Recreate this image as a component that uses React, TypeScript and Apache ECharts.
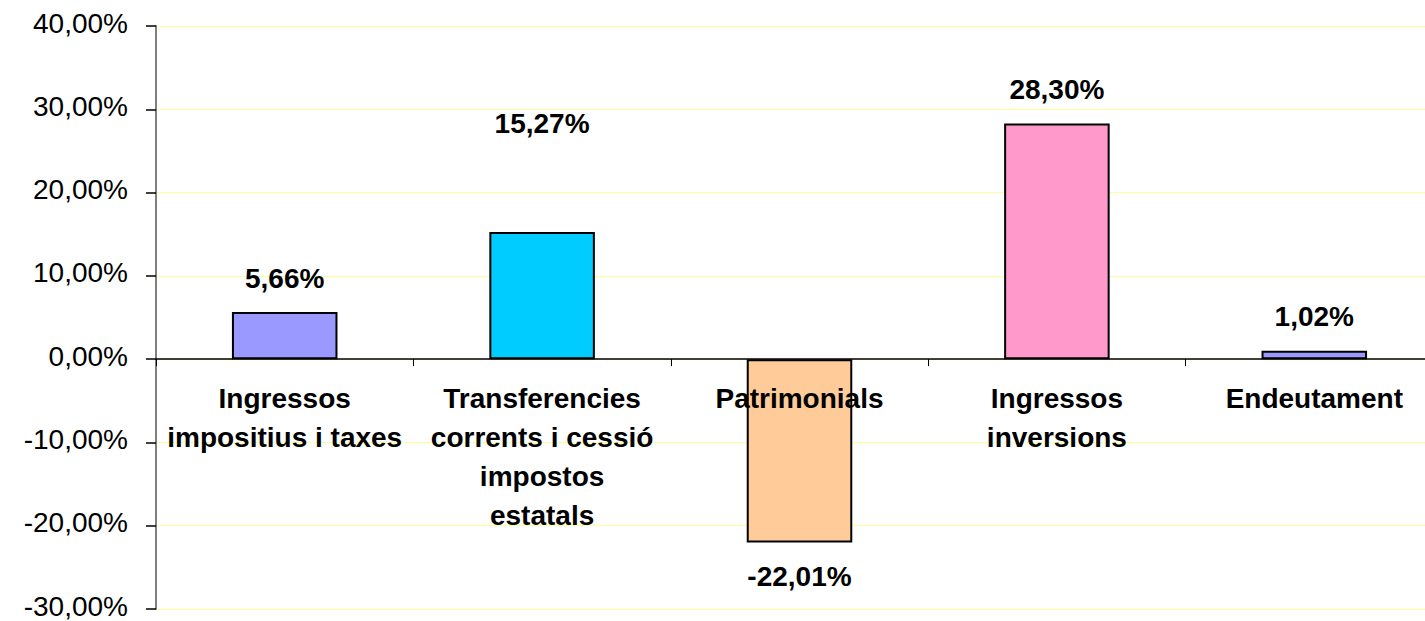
import React, { useEffect, useRef } from "react";
import * as echarts from "echarts";

const categories = [
  "Ingressos\nimpositius i taxes",
  "Transferencies\ncorrents i cessió\nimpostos\nestatals",
  "Patrimonials",
  "Ingressos\ninversions",
  "Endeutament",
];
const values = [5.66, 15.27, -22.01, 28.3, 1.02];
const barColors = ["#9999FF", "#00CCFF", "#FFCC99", "#FF99CC", "#9999FF"];
const yMin = -30;
const yMax = 40;
const yStep = 10;

const FONT = "'Liberation Sans', Arial, sans-serif";
const fmt = (v: number) => v.toFixed(2).replace(".", ",") + "%";

const GRID_TOP = 26;
const GRID_H = 583;
const zeroOffset = (GRID_H * yMin) / (yMax - yMin); // negative: lift axis to zero

export default function App() {
  const ref = useRef<HTMLDivElement>(null);
  useEffect(() => {
    if (!ref.current) return;
    const chart = echarts.init(ref.current, undefined, { renderer: "svg" });
    chart.setOption({
      animation: false,
      backgroundColor: "#ffffff",
      grid: {
        left: 156,
        top: GRID_TOP,
        width: 1287,
        height: GRID_H,
        containLabel: false,
        outerBoundsMode: "none",
      },
      xAxis: {
        type: "category",
        data: categories,
        z: 5,
        position: "bottom",
        offset: zeroOffset,
        axisLine: { onZero: false, lineStyle: { color: "#000000", width: 1.5 } },
        axisTick: { show: true, length: 7, lineStyle: { color: "#000000" } },
        axisLabel: {
          interval: 0,
          margin: 20,
          color: "#000000",
          fontFamily: FONT,
          fontWeight: "bold",
          fontSize: 28,
          lineHeight: 39,
          verticalAlign: "top",
          hideOverlap: false,
        },
        splitLine: { show: false },
      },
      yAxis: {
        type: "value",
        min: yMin,
        max: yMax,
        interval: yStep,
        axisLine: { show: true, lineStyle: { color: "#808080", width: 2 } },
        axisTick: { show: true, length: 10, lineStyle: { color: "#000000", width: 1.5 } },
        axisLabel: {
          margin: 28,
          color: "#000000",
          fontFamily: FONT,
          fontSize: 28,
          verticalAlign: "middle",
          formatter: (v: number) => "{t|" + fmt(v) + "}",
          rich: {
            t: {
              color: "#000000",
              fontFamily: FONT,
              fontSize: 28,
              lineHeight: 20,
              padding: [0, 0, 6, 0],
            },
          },
        },
        splitLine: { show: true, lineStyle: { color: "#FFFF99", width: 1 } },
      },
      series: [
        {
          type: "bar",
          barWidth: "41%",
          data: values.map((v, i) => ({
            value: v,
            itemStyle: { color: barColors[i], borderColor: "#000000", borderWidth: 2 },
            label: {
              show: true,
              position: v >= 0 ? "top" : "bottom",
              distance: i === 1 ? 94 : 20,
              formatter: () => fmt(v),
              color: "#000000",
              fontFamily: FONT,
              fontWeight: "bold",
              fontSize: 28,
            },
          })),
        },
      ],
    });
    return () => chart.dispose();
  }, []);
  return (
    <div
      ref={ref}
      style={{ position: "fixed", left: 0, top: 0, width: 1425, height: 621 }}
    />
  );
}
